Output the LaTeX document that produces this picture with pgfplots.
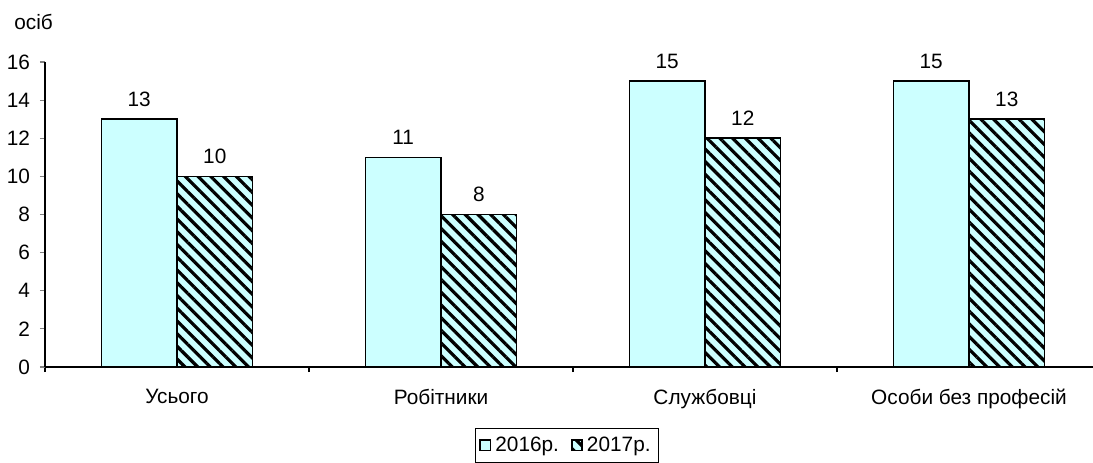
\documentclass[border=0pt]{standalone}
\usepackage{pgfplots}
\pgfplotsset{compat=1.18}
\usepackage{fontspec}
\setmainfont{Liberation Sans}
\usetikzlibrary{patterns.meta}
\definecolor{lcyan}{RGB}{204,255,255}
\newcommand{\cf}{\fontsize{10.4}{12}\selectfont}
\begin{document}
\begin{tikzpicture}
\begin{axis}[
  name=ax,
  scale only axis,
  width=528pt, height=152.5pt,
  xmin=0.5, xmax=4.5,
  ymin=0, ymax=16,
  ytick={0,2,...,16},
  xtick={1,2,3,4},
  xticklabels={Усього,Робітники,Службовці,Особи без професій},
  minor xtick={0.5,1.5,2.5,3.5,4.5},
  axis lines=left,
  axis line style={-, line width=0.9pt},
  tick align=outside,
  major tick length=2.5pt,
  minor tick length=2.5pt,
  x tick style={draw=none},
  minor x tick style={draw=black, line width=0.8pt},
  y tick style={line width=0.6pt},
  ticklabel style={font=\cf},
  /pgf/number format/assume math mode=true,
  xticklabel style={yshift=-5pt},
  yticklabel style={xshift=-1.5pt},
  ybar=0pt,
  bar width=37.8pt,
  nodes near coords,
  every node near coord/.append style={font=\cf, anchor=base, inner sep=0pt, yshift=6.5pt},
  legend columns=2,
  legend style={at={(0.5,-0.2)}, xshift=-3pt, anchor=north, draw=black, line width=0.5pt, font=\cf, inner sep=2pt,
    /tikz/every even column/.append style={column sep=4pt}},
  legend image code/.code={\draw[#1] (0pt,-2.6pt) rectangle (5.2pt,2.6pt);},
  clip=false,
]
\addplot[draw=black, line width=0.8pt, fill=lcyan] coordinates {(1,13) (2,11) (3,15) (4,15)};
\addplot[draw=black, line width=0.8pt, fill=lcyan, postaction={pattern={Lines[angle=-45,distance=4.5pt,line width=1.6pt]}, pattern color=black}] coordinates {(1,10) (2,8) (3,12) (4,13)};
\legend{2016р.,2017р.}
\end{axis}
\node[font=\cf, anchor=base west, inner sep=0pt] at ([xshift=-15.5pt, yshift=16.5pt]ax.north west) {осіб};
\pgfresetboundingbox
\path[use as bounding box] ([xshift=-22.5pt, yshift=-47.5pt]ax.south west) rectangle ([xshift=-4pt, yshift=31pt]ax.north east);
\end{tikzpicture}
\end{document}
